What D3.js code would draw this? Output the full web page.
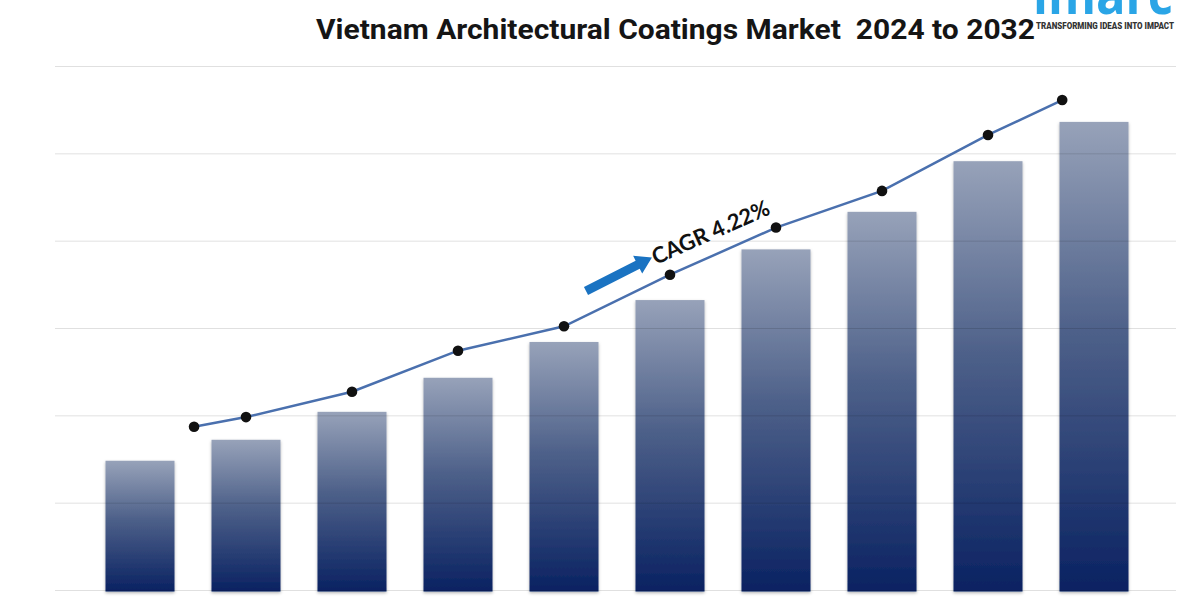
<!DOCTYPE html>
<html>
<head>
<meta charset="utf-8">
<script src="https://cdn.jsdelivr.net/npm/d3@7"></script>
<style>
  body { margin: 0; background: #fff; }
  svg { display: block; }
</style>
</head>
<body>
<svg id="chart" width="1200" height="600"></svg>
<script>
'use strict';

// market size per year (index units, one gridline = 1)
var years = ['2024', '2025', '2026', '2027', '2028', '2029', '2030', '2031', '2032', '2033'];
var barValues = [1.48, 1.72, 2.04, 2.43, 2.84, 3.32, 3.90, 4.33, 4.91, 5.36];
// trend line, placed on fractional bar positions
var linePos = [0.51, 1, 2, 3, 4, 5, 6, 7, 8, 8.7];
var lineValues = [1.87, 1.98, 2.27, 2.74, 3.02, 3.61, 4.15, 4.57, 5.21, 5.61];
var gridTicks = [0, 1, 2, 3, 4, 5, 6];

var title = 'Vietnam Architectural Coatings Market\u00a0 2024 to 2032';
var cagrLabel = 'CAGR 4.22%';

var svg = d3.select('#chart');

var x = d3.scaleLinear().domain([0, 9]).range([140, 1094]);
var y = d3.scaleLinear().domain([0, 6]).range([590, 66]);
var barWidth = 69;

// gradient for bars
var defs = svg.append('defs');
var grad = defs.append('linearGradient')
  .attr('id', 'barGrad')
  .attr('x1', 0).attr('y1', 0).attr('x2', 0).attr('y2', 1);
grad.append('stop').attr('offset', '0%').attr('stop-color', '#97a2b9');
grad.append('stop').attr('offset', '45%').attr('stop-color', '#4d6089');
grad.append('stop').attr('offset', '100%').attr('stop-color', '#0a2262');

var shadow = defs.append('filter').attr('id', 'shadow')
  .attr('x', '-10%').attr('y', '-5%').attr('width', '120%').attr('height', '110%');
shadow.append('feDropShadow')
  .attr('dx', 0).attr('dy', 1.5).attr('stdDeviation', 1.5)
  .attr('flood-color', '#000').attr('flood-opacity', 0.3);

// bars
svg.append('g').selectAll('rect')
  .data(barValues)
  .join('rect')
  .attr('x', (d, i) => x(i) - barWidth / 2)
  .attr('y', d => y(d))
  .attr('width', barWidth)
  .attr('height', d => y(0) - y(d) + 1.5)
  .attr('fill', 'url(#barGrad)')
  .attr('filter', 'url(#shadow)');

// gridlines (drawn over the bars, they show through faintly)
svg.append('g').selectAll('line')
  .data(gridTicks)
  .join('line')
  .attr('x1', 55).attr('x2', 1176)
  .attr('y1', d => y(d) + 0.5).attr('y2', d => y(d) + 0.5)
  .attr('stroke', '#000')
  .attr('stroke-opacity', 0.12)
  .attr('stroke-width', 1);

// trend line
var linePts = lineValues.map((v, i) => [x(linePos[i]), y(v)]);
svg.append('path')
  .datum(linePts)
  .attr('d', d3.line())
  .attr('fill', 'none')
  .attr('stroke', '#4a70ae')
  .attr('stroke-width', 2.5);

svg.append('g').selectAll('circle')
  .data(linePts)
  .join('circle')
  .attr('cx', d => d[0])
  .attr('cy', d => d[1])
  .attr('r', 5.3)
  .attr('fill', '#111');

// CAGR arrow + label
var arrow = svg.append('g').attr('transform', 'translate(586,291) rotate(-27)');
arrow.append('path')
  .attr('d', 'M0,-4.5 L58,-4.5 L58,-10 L74,0 L58,10 L58,4.5 L0,4.5 Z')
  .attr('fill', '#1a73c2');

svg.append('text')
  .attr('transform', 'translate(656,265) rotate(-24)')
  .attr('font-family', 'Lato, "Open Sans", sans-serif')
  .attr('font-weight', 'bold')
  .attr('font-size', 22)
  .attr('fill', '#111')
  .text(cagrLabel);

// title
svg.append('text')
  .attr('x', 316).attr('y', 39)
  .attr('font-family', 'Roboto, sans-serif')
  .attr('font-weight', 'bold')
  .attr('font-size', 27)
  .attr('textLength', 719)
  .attr('lengthAdjust', 'spacingAndGlyphs')
  .attr('fill', '#151515')
  .text(title);

// logo (cut off at the top edge, as in the picture)
svg.append('text')
  .attr('x', 1033).attr('y', 14)
  .attr('font-family', '"Open Sans", sans-serif')
  .attr('font-weight', 700)
  .attr('font-size', 54)
  .attr('textLength', 140)
  .attr('lengthAdjust', 'spacingAndGlyphs')
  .attr('fill', '#2aa5e6')
  .text('imarc');

svg.append('text')
  .attr('x', 1036).attr('y', 29)
  .attr('font-family', 'Roboto, sans-serif')
  .attr('font-weight', 900)
  .attr('font-size', 8.5)
  .attr('textLength', 138)
  .attr('lengthAdjust', 'spacingAndGlyphs')
  .attr('fill', '#333')
  .text('TRANSFORMING IDEAS INTO IMPACT');
</script>
</body>
</html>
